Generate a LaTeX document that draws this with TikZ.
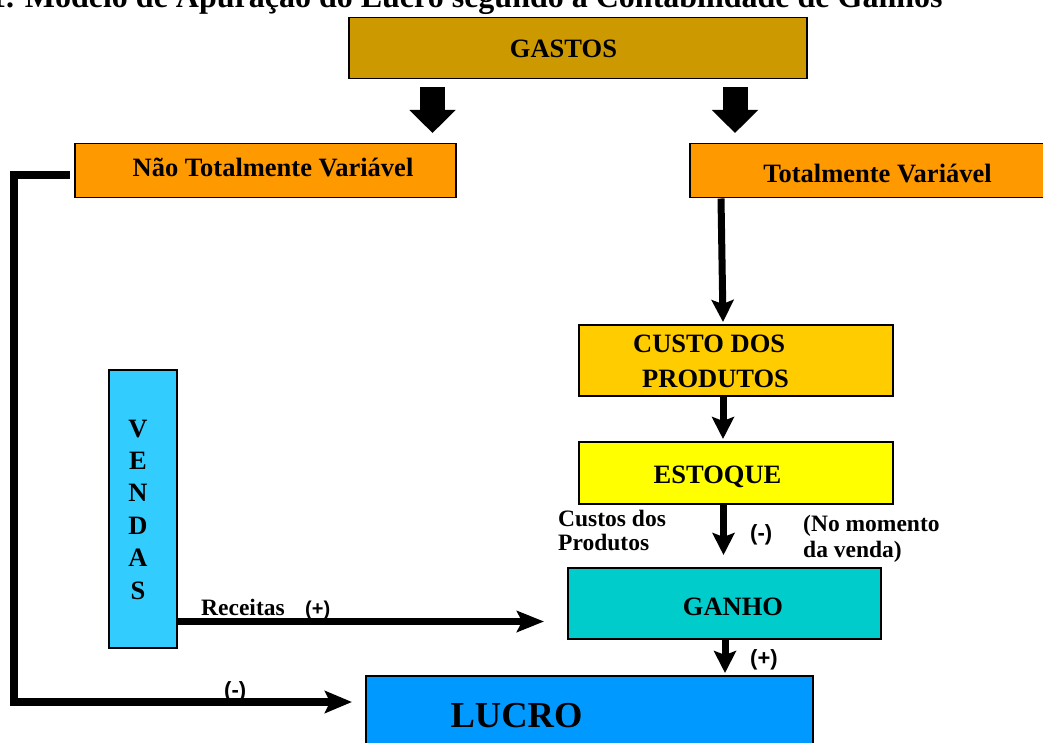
\documentclass[tikz,border=0pt]{standalone}
\usepackage{fontspec}
\setmainfont{Liberation Serif}
\newfontfamily\arialfont{Liberation Sans}
\usetikzlibrary{arrows.meta,calc}
\definecolor{cGastos}{HTML}{CC9900}
\definecolor{cOrange}{HTML}{FF9900}
\definecolor{cCusto}{HTML}{FFCC00}
\definecolor{cEstoque}{HTML}{FFFF00}
\definecolor{cGanho}{HTML}{00CCCC}
\definecolor{cVendas}{HTML}{33CCFF}
\definecolor{cLucro}{HTML}{0099FF}
\begin{document}
\begin{tikzpicture}[x=1pt,y=-1pt,
  box/.style={draw=black, line width=1.5pt, inner sep=0pt, anchor=north west},
  boxtxt/.style={font=\bfseries\fontsize{26.5}{30}\selectfont, inner sep=0pt, anchor=base},
  lbl/.style={font=\bfseries\fontsize{23.5}{26}\selectfont, inner sep=0pt, anchor=base west},
  sgn/.style={font=\arialfont\bfseries\fontsize{22}{24}\selectfont, inner sep=0pt, anchor=base west},
  conn/.style={line width=7pt, -{Stealth[length=22pt,width=22pt,inset=4pt]}},
  blockarrow/.style={line width=25pt, -{Triangle[length=23pt,width=45pt]}}
]
\useasboundingbox (0,0) rectangle (1043,743);
\clip (0,0) rectangle (1043,743);

% title (cut at the top)
\node[font=\bfseries\fontsize{32}{36}\selectfont, inner sep=0pt, anchor=base west] (title) at (-10,7.5)
  {1. Modelo de Apuração do Lucro segundo a Contabilidade de Ganhos};

% boxes
\node[box, fill=cGastos, minimum width=458, minimum height=61] (gastos) at (348,17) {};
\node[box, fill=cOrange, minimum width=381, minimum height=54] (nao) at (74,143) {};
\node[box, fill=cOrange, minimum width=420, minimum height=54] (tot) at (689,143) {};
\node[box, fill=cCusto, minimum width=314, minimum height=71] (custo) at (578,324) {};
\node[box, fill=cEstoque, minimum width=314, minimum height=62] (estoque) at (578,441) {};
\node[box, fill=cGanho, minimum width=313, minimum height=71] (ganho) at (567,567) {};
\node[box, fill=cVendas, minimum width=68, minimum height=278] (vendas) at (108,369) {};
\node[box, fill=cLucro, minimum width=447, minimum height=110] (lucro) at (365,675) {};

% box texts
\node[boxtxt] (tGastos) at (563.5,58) {GASTOS};
\node[boxtxt] (tNao) at (273,177) {Não Totalmente Variável};
\node[boxtxt] (tTot) at (877.5,183) {Totalmente Variável};
\node[boxtxt, anchor=base west] (tCusto1) at (633,352) {CUSTO DOS};
\node[boxtxt, anchor=base west] (tCusto2) at (642,387) {PRODUTOS};
\node[boxtxt] (tEstoque) at (717.5,483) {ESTOQUE};
\node[boxtxt] (tGanho) at (733,615) {GANHO};
\node[boxtxt, font=\bfseries\fontsize{36.5}{40}\selectfont] (tLucro) at (516.5,727) {LUCRO};
\node[boxtxt] (tV) at (138,437) {V};
\node[boxtxt] (tE) at (138,469.4) {E};
\node[boxtxt] (tN) at (138,501.8) {N};
\node[boxtxt] (tD) at (138,534.2) {D};
\node[boxtxt] (tA) at (138,566.6) {A};
\node[boxtxt] (tS) at (138,599) {S};

% block arrows below GASTOS
\coordinate (b1s) at (432.5,87);
\coordinate (b1e) at (432.5,133);
\coordinate (b2s) at (735,87);
\coordinate (b2e) at (735,133);
\draw[blockarrow] (b1s) -- (b1e);
\draw[blockarrow] (b2s) -- (b2e);

% connectors
\draw[conn] ([xshift=32pt]tot.south west) -- ([xshift=145pt,yshift=2pt]custo.north west);
\draw[conn] ([xshift=145pt]custo.south west) -- ([xshift=145pt,yshift=2pt]estoque.north west);
\draw[conn] ([xshift=145.5pt]estoque.south west) -- ([xshift=156.5pt,yshift=12pt]ganho.north west);
\draw[conn] ([xshift=158pt]ganho.south west) -- ([xshift=360pt,yshift=2pt]lucro.north west);

\coordinate (recStart) at ([yshift=27pt]vendas.south east);
\coordinate (recEnd) at ($(ganho.west |- recStart)+(-23,0)$);
\draw[conn, -{Stealth[length=27pt,width=21pt,inset=5pt]}] (recStart) -- (recEnd);

\coordinate (corner) at (14,702);
\coordinate (lucEnd) at ($(lucro.west |- corner)+(-13,0)$);
\draw[conn, line width=8pt, line join=miter, -{Stealth[length=27pt,width=22pt,inset=5pt]}]
  ([xshift=-4pt,yshift=-4pt]nao.west) -| (corner) -- (lucEnd);

% labels
\node[lbl] (lRec) at (201,615) {Receitas};
\node[sgn, font=\arialfont\bfseries\fontsize{20}{22}\selectfont] (lRecS) at (305,615) {(+)};
\node[sgn] (lNeg) at (224,697) {(-)};
\node[lbl] (lCus1) at (558,526) {Custos dos};
\node[lbl] (lCus2) at (558,550) {Produtos};
\node[sgn] (lNeg2) at (750,540) {(-)};
\node[lbl] (lMom1) at (803,531) {(No momento};
\node[lbl] (lMom2) at (803,557) {da venda)};
\node[sgn] (lPos) at (750,665) {(+)};
\end{tikzpicture}
\end{document}
